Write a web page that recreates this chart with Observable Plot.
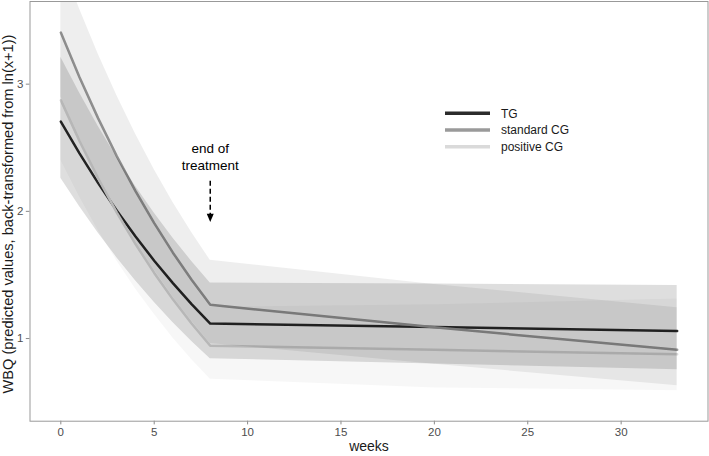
<!DOCTYPE html>
<html><head><meta charset="utf-8">
<script src="https://cdn.jsdelivr.net/npm/d3@7"></script>
<script src="https://cdn.jsdelivr.net/npm/@observablehq/plot@0.6"></script>
<style>
html,body{margin:0;padding:0;background:#fff;}
#chart{position:relative;width:709px;height:456px;}
#chart svg g[aria-label$="tick"] path, #chart svg .tick line{stroke:#8a8a8a;}
</style></head><body><div id="chart"></div>
<script>
// ---- data ----
const weeks = [0, 1, 2, 3, 4, 5, 6, 7, 8, 20, 33];
const groupNames = ["TG", "standard CG", "positive CG"];

const tgFit = [2.706, 2.456, 2.222, 2.005, 1.802, 1.612, 1.436, 1.271, 1.118, 1.090, 1.060];
const tgLo  = [2.261, 2.038, 1.830, 1.636, 1.455, 1.285, 1.126, 0.979, 0.841, 0.799, 0.755];
const tgHi  = [3.212, 2.932, 2.670, 2.425, 2.197, 1.987, 1.791, 1.608, 1.436, 1.428, 1.417];

const stdFit = [3.406, 3.054, 2.731, 2.433, 2.159, 1.907, 1.675, 1.462, 1.265, 1.088, 0.911];
const stdLo  = [2.900, 2.579, 2.284, 2.014, 1.766, 1.538, 1.329, 1.137, 0.961, 0.797, 0.628];
const stdHi  = [3.978, 3.593, 3.238, 2.911, 2.608, 2.330, 2.072, 1.835, 1.616, 1.425, 1.243];

const posFit = [2.873, 2.553, 2.259, 1.990, 1.743, 1.516, 1.308, 1.118, 0.943, 0.911, 0.877];
const posLo  = [2.401, 2.114, 1.850, 1.610, 1.389, 1.190, 1.005, 0.836, 0.680, 0.612, 0.590];
const posHi  = [3.411, 3.054, 2.726, 2.425, 2.149, 1.891, 1.658, 1.443, 1.246, 1.265, 1.310];

const xTicks = [0, 5, 10, 15, 20, 25, 30];
const yTicks = [1, 2, 3];
const xLabel = "weeks";
const yLabel = "WBQ (predicted values, back-transformed from ln(x+1))";

const annotWeek = 8;
const annotText = "end of\ntreatment";
const annotTextY = 2.437;
const arrowTop = 2.24;
const arrowBottom = 1.98;
const arrowHead = 1.95;

// ---- styles ----
const lineColors = ["#2b2b2b", "#9a9a9a", "#dadada"];
const bandOpacity = [0.13, 0.065, 0.03];
const fontFamily = "'Liberation Sans', Arial, Helvetica, sans-serif";

const series = [
  {fit: tgFit, lo: tgLo, hi: tgHi},
  {fit: stdFit, lo: stdLo, hi: stdHi},
  {fit: posFit, lo: posLo, hi: posHi}
];
const tables = series.map((s, g) => weeks.map((w, i) => ({
  group: groupNames[g], week: w, fit: s.fit[i], lo: s.lo[i], hi: s.hi[i]
})));

const downTriangle = {
  draw(ctx, size) {
    const s = Math.sqrt(size / Math.PI);
    ctx.moveTo(-s, -s * 1.1);
    ctx.lineTo(s, -s * 1.1);
    ctx.lineTo(0, s * 1.2);
    ctx.closePath();
  }
};

const marks = [];
tables.forEach((t, g) => {
  marks.push(Plot.line(t, {x: "week", y: "fit", stroke: lineColors[g], strokeWidth: 2.5, clip: true}));
});
tables.forEach((t, g) => {
  marks.push(Plot.areaY(t, {x: "week", y1: "lo", y2: "hi", fill: "black", fillOpacity: bandOpacity[g], clip: true}));
});
marks.push(Plot.link([{w: annotWeek}], {x1: "w", x2: "w", y1: () => arrowTop, y2: () => arrowBottom,
  stroke: "black", strokeWidth: 1.5, strokeDasharray: "5,3"}));
marks.push(Plot.dot([{w: annotWeek}], {x: "w", y: () => arrowHead, r: 3.5, symbol: downTriangle, fill: "black", stroke: "none"}));
marks.push(Plot.text([{w: annotWeek}], {x: "w", y: () => annotTextY, text: () => annotText,
  fontSize: 13.5, lineHeight: 1.26, fill: "black", lineAnchor: "middle"}));
marks.push(Plot.frame({stroke: "#999", strokeWidth: 1}));

const chart = Plot.plot({
  width: 709,
  height: 456,
  marginLeft: 29.5,
  marginRight: 1.5,
  marginTop: 1,
  marginBottom: 35.3,
  style: {fontFamily, fontSize: "11.5px", color: "#4d4d4d", background: "white", overflow: "visible"},
  x: {domain: [-1.65, 34.65], ticks: xTicks, tickFormat: d => String(d), tickSize: 3.7, tickPadding: 2.5, label: null},
  y: {domain: [0.35, 3.65], ticks: yTicks, tickFormat: d => String(d), tickSize: 3.7, tickPadding: 3, label: null},
  marks
});
document.getElementById("chart").appendChild(chart);

const svg = d3.select(chart);
svg.append("text").attr("x", 369).attr("y", 451).attr("text-anchor", "middle")
  .attr("font-family", fontFamily).attr("font-size", 14).attr("fill", "#1a1a1a").text(xLabel);
svg.append("text").attr("transform", "translate(13,214) rotate(-90)").attr("text-anchor", "middle")
  .attr("font-family", fontFamily).attr("font-size", 14.6).attr("fill", "#1a1a1a").text(yLabel);

const leg = svg.append("g").attr("font-family", fontFamily).attr("font-size", 12).attr("text-anchor", "start");
groupNames.forEach((name, i) => {
  const y = 113.3 + i * 16.7;
  leg.append("line").attr("x1", 445).attr("x2", 490).attr("y1", y).attr("y2", y)
    .attr("stroke", lineColors[i]).attr("stroke-width", 3.5);
  leg.append("text").attr("x", 501).attr("y", y).attr("dy", "0.35em").attr("text-anchor", "start")
    .attr("fill", "#1a1a1a").text(name);
});
</script></body></html>
